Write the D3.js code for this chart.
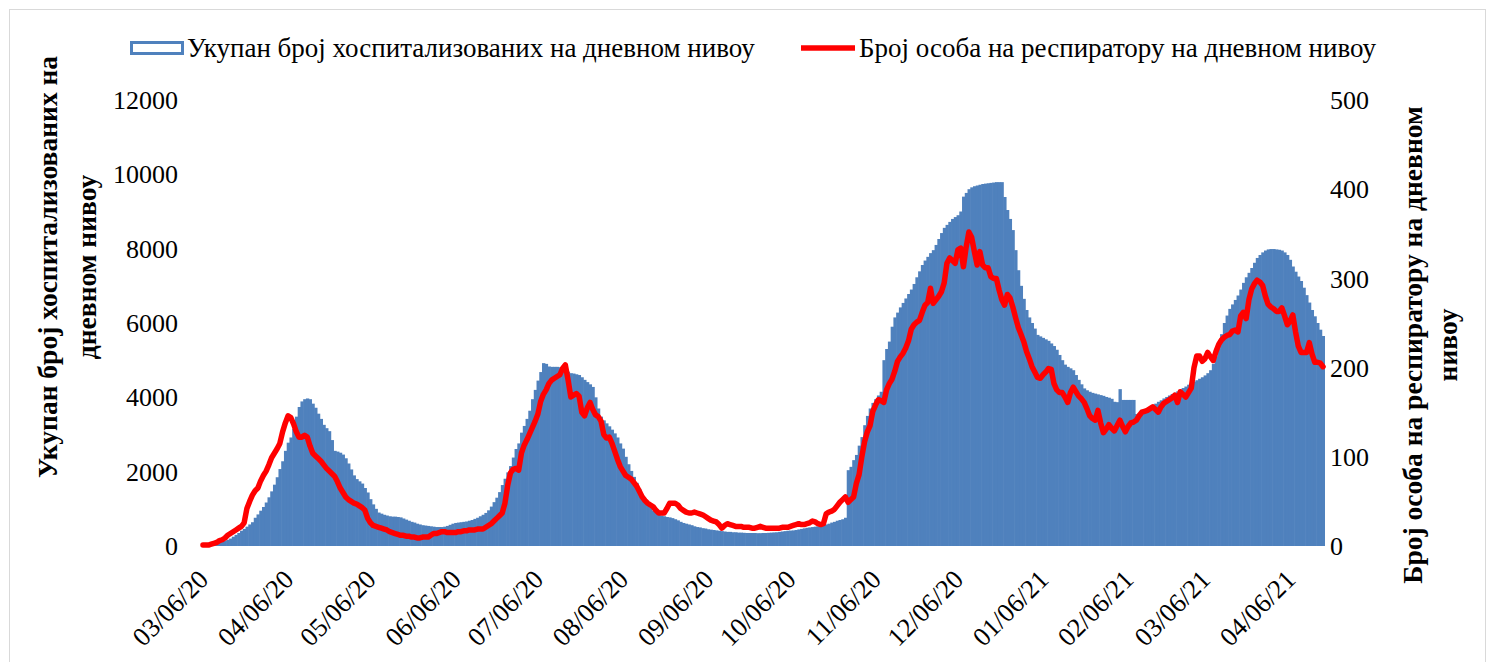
<!DOCTYPE html>
<html lang="sr">

<head>
    <meta charset="UTF-8">
    <script src="https://d3js.org/d3.v7.min.js"></script>
    <title>Хоспитализовани и респиратори</title>
    <style>
        body {
            margin: 0;
            background: white;
        }

        svg text {
            font-family: "Liberation Serif", "Times New Roman", serif;
            fill: #000;
        }
    </style>
</head>

<body>
    <div class="fig1"></div>

    <script>
        // daily data, first day 03/06/20, last day 04/18/21
        const startDay = new Date(2020, 2, 6);
        const endDay = new Date(2021, 3, 19);   // exclusive

        // total hospitalized per day (left axis)
        const hospitalized = [
            0, 0, 10, 20, 40, 60, 80, 110, 140, 170,
            200, 250, 300, 350, 410, 460, 520, 580, 640, 760,
            850, 950, 1050, 1170, 1310, 1470, 1650, 1850, 2070, 2280,
            2560, 2780, 2920, 3150, 3480, 3740, 3890, 3950, 3970, 3950,
            3830, 3720, 3560, 3420, 3260, 3170, 3090, 2850, 2560, 2540,
            2510, 2460, 2360, 2220, 2060, 1900, 1800, 1740, 1680, 1560,
            1440, 1260, 1120, 1000, 900, 870, 840, 820, 800, 790,
            790, 780, 770, 740, 710, 680, 650, 630, 600, 580,
            560, 550, 540, 530, 520, 510, 510, 510, 520, 540,
            570, 600, 620, 630, 640, 650, 660, 680, 700, 730,
            760, 800, 840, 890, 960, 1060, 1180, 1300, 1450, 1640,
            1810, 1980, 2150, 2380, 2610, 2760, 3050, 3230, 3420, 3640,
            3950, 4200, 4450, 4680, 4920, 4900, 4830, 4820, 4820, 4820,
            4810, 4780, 4740, 4690, 4650, 4640, 4620, 4600, 4540, 4470,
            4410, 4350, 4280, 4000, 3700, 3480, 3380, 3300, 3220, 3130,
            3030, 2920, 2760, 2620, 2400, 2200, 2020, 1860, 1700, 1540,
            1360, 1240, 1140, 1040, 950, 890, 850, 820, 800, 780,
            770, 750, 720, 690, 650, 620, 600, 580, 560, 530,
            510, 500, 480, 470, 450, 440, 430, 420, 410, 400,
            390, 380, 380, 370, 370, 360, 360, 355, 350, 350,
            350, 350, 345, 345, 350, 350, 355, 360, 365, 370,
            380, 390, 400, 410, 415, 420, 430, 445, 460, 475,
            490, 500, 510, 520, 530, 545, 560, 580, 600, 630,
            650, 680, 700, 720, 760, 2040, 2130, 2310, 2450, 2700,
            2930, 3250, 3500, 3700, 3850, 3950, 4050, 4150, 5000, 5300,
            5500, 5900, 6150, 6280, 6420, 6540, 6660, 6780, 6900, 7050,
            7230, 7390, 7560, 7680, 7780, 7880, 7960, 8100, 8260, 8420,
            8560, 8640, 8720, 8800, 8850, 8900, 9000, 9400, 9500, 9600,
            9650, 9680, 9700, 9720, 9740, 9750, 9760, 9770, 9780, 9790,
            9790, 9790, 9390, 9040, 8800, 8500, 7960, 7420, 7000, 6650,
            6350, 6150, 6000, 5850, 5680, 5640, 5600, 5560, 5520, 5450,
            5380, 5280, 5140, 5000, 4880, 4820, 4780, 4730, 4600, 4470,
            4350, 4240, 4190, 4150, 4120, 4100, 4080, 4060, 4040, 4010,
            3990, 3960, 3880, 3870, 4220, 3930, 3930, 3930, 3930, 3930,
            3550, 3580, 3620, 3660, 3700, 3740, 3780, 3830, 3880, 3920,
            3970, 4010, 4050, 4090, 4120, 4160, 4200, 4250, 4290, 4340,
            4380, 4420, 4460, 4500, 4540, 4590, 4650, 4730, 4900, 5100,
            5300, 5700, 6000, 6200, 6380, 6500, 6620, 6740, 6900, 7080,
            7230, 7350, 7480, 7620, 7750, 7830, 7900, 7950, 7980, 7990,
            7990, 7980, 7970, 7950, 7900, 7830, 7700, 7520, 7380, 7250,
            7130, 6950, 6750, 6550, 6350, 6180, 6000, 5820, 5650
        ];

        // persons on respirator per day (right axis)
        const respirator = [
            1, 1, 1, 2, 3, 4, 6, 7, 9, 12,
            14, 16, 18, 20, 22, 26, 42, 50, 57, 62,
            65, 73, 79, 84, 91, 99, 104, 109, 115, 128,
            138, 146, 144, 137, 128, 122, 122, 124, 122, 112,
            104, 101, 98, 95, 91, 87, 84, 81, 78, 72,
            65, 60, 55, 52, 50, 48, 47, 45, 43, 40,
            31, 26, 23, 22, 21, 20, 19, 18, 16, 15,
            14, 13, 12, 12, 11, 11, 10, 10, 9, 9,
            10, 10, 10, 12, 14, 14, 15, 16, 16, 15,
            15, 15, 15, 16, 16, 17, 17, 18, 18, 18,
            19, 19, 19, 21, 23, 25, 28, 31, 34, 37,
            48, 68, 82, 86, 87, 85, 104, 113, 119, 126,
            133, 140, 148, 162, 170, 175, 182, 186, 188, 190,
            192, 199, 203, 186, 167, 169, 171, 168, 150, 146,
            155, 161, 153, 147, 145, 140, 125, 121, 122, 115,
            106, 97, 89, 84, 79, 77, 75, 71, 67, 61,
            55, 51, 48, 46, 44, 40, 37, 37, 37, 42,
            48, 48, 48, 46, 42, 40, 38, 37, 37, 38,
            37, 36, 35, 33, 31, 29, 28, 27, 24, 20,
            23, 25, 24, 23, 22, 22, 22, 21, 21, 21,
            20, 20, 21, 22, 21, 20, 20, 20, 20, 20,
            20, 21, 21, 21, 22, 23, 24, 25, 24, 24,
            25, 26, 28, 27, 25, 24, 25, 36, 38, 39,
            41, 45, 49, 52, 55, 49, 52, 55, 70, 80,
            100, 117, 128, 135, 151, 158, 164, 163, 161, 175,
            182, 187, 196, 207, 212, 216, 222, 230, 243, 248,
            251, 253, 262, 270, 273, 289, 272, 276, 280, 285,
            295, 317, 323, 320, 317, 332, 334, 313, 335, 352,
            346, 330, 315, 330, 315, 312, 312, 302, 300, 300,
            287, 276, 270, 282, 278, 268, 256, 245, 237, 229,
            218, 210, 201, 195, 189, 188, 192, 195, 199, 198,
            182, 175, 172, 172, 167, 161, 172, 178, 173, 168,
            165, 161, 154, 146, 143, 141, 152, 138, 127, 131,
            136, 132, 129, 135, 141, 134, 128, 134, 138, 139,
            141, 146, 150, 151, 152, 154, 156, 153, 150, 156,
            160, 162, 164, 166, 169, 161, 173, 170, 167, 172,
            177, 200, 213, 213, 207, 210, 217, 212, 208, 218,
            226, 231, 234, 236, 237, 241, 242, 240, 258, 262,
            255, 276, 288, 294, 298, 296, 292, 280, 271, 268,
            266, 263, 263, 267, 258, 248, 252, 259, 240, 224,
            217, 217, 217, 228, 215, 206, 206, 205, 201
        ];

        const xTickLabels = ["03/06/20", "04/06/20", "05/06/20", "06/06/20", "07/06/20", "08/06/20", "09/06/20",
            "10/06/20", "11/06/20", "12/06/20", "01/06/21", "02/06/21", "03/06/21", "04/06/21"];
        const leftTicks = [0, 2000, 4000, 6000, 8000, 10000, 12000];
        const rightTicks = [0, 100, 200, 300, 400, 500];

        const legendBars = "Укупан број хоспитализованих на дневном нивоу";
        const legendLine = "Број особа на респиратору на дневном нивоу";
        const leftTitle = ["Укупан број хоспитализованих на", "дневном нивоу"];
        const rightTitle = ["Број особа на респиратору на дневном", "нивоу"];

        const width = 1494;
        const height = 662;
        const barColor = "#4f81bd";
        const lineColor = "#ff0000";

        const days = d3.timeDay.range(startDay, endDay);
        const parseTick = d3.timeParse("%m/%d/%y");

        const svg = d3.select(".fig1").append("svg")
            .attr("width", width)
            .attr("height", height);

        // chart frame
        svg.append("rect")
            .attr("x", 9.5).attr("y", 9.5)
            .attr("width", 1476).attr("height", 665)
            .attr("fill", "white")
            .attr("stroke", "#d9d9d9")
            .attr("stroke-width", 1);

        const x = d3.scaleBand()
            .domain(days.map(d => +d))
            .range([201.6, 1324.4])
            .paddingInner(0)
            .paddingOuter(0);

        const yLeft = d3.scaleLinear().domain([0, 12000]).range([546, 100]);
        const yRight = d3.scaleLinear().domain([0, 500]).range([546, 100]);

        // bars
        svg.append("g")
            .selectAll("rect")
            .data(hospitalized)
            .enter()
            .append("rect")
            .attr("x", (d, i) => x(+days[i]))
            .attr("y", d => yLeft(d))
            .attr("width", x.bandwidth() + 0.6)
            .attr("height", d => yLeft(0) - yLeft(d))
            .attr("fill", barColor);

        // respirator line
        const line = d3.line()
            .x((d, i) => x(+days[i]) + x.bandwidth() / 2)
            .y(d => yRight(d));

        svg.append("path")
            .datum(respirator)
            .attr("d", line)
            .attr("fill", "none")
            .attr("stroke", lineColor)
            .attr("stroke-width", 5.5)
            .attr("stroke-linejoin", "round")
            .attr("stroke-linecap", "round");

        // left axis labels
        svg.append("g")
            .selectAll("text")
            .data(leftTicks)
            .enter()
            .append("text")
            .attr("x", 178)
            .attr("y", d => yLeft(d))
            .attr("dy", "0.35em")
            .attr("text-anchor", "end")
            .style("font-size", "26px")
            .text(d => d);

        // right axis labels
        svg.append("g")
            .selectAll("text")
            .data(rightTicks)
            .enter()
            .append("text")
            .attr("x", 1330)
            .attr("y", d => yRight(d))
            .attr("dy", "0.35em")
            .attr("text-anchor", "start")
            .style("font-size", "26px")
            .text(d => d);

        // x labels, rotated
        svg.append("g")
            .selectAll("text")
            .data(xTickLabels)
            .enter()
            .append("text")
            .attr("transform", d => {
                const cx = x(+parseTick(d)) + x.bandwidth() / 2;
                return `translate(${cx + 7},${581}) rotate(-45)`;
            })
            .attr("text-anchor", "end")
            .style("font-size", "26.5px")
            .text(d => d);

        // axis titles
        leftTitle.forEach((t, k) => {
            svg.append("text")
                .attr("transform", `translate(${47 + k * 39},267) rotate(-90)`)
                .attr("text-anchor", "middle")
                .attr("dy", "0.35em")
                .style("font-size", "27.5px")
                .style("font-weight", "bold")
                .text(t);
        });

        rightTitle.forEach((t, k) => {
            svg.append("text")
                .attr("transform", `translate(${1412 + k * 35},345) rotate(-90)`)
                .attr("text-anchor", "middle")
                .attr("dy", "0.35em")
                .style("font-size", "27.5px")
                .style("font-weight", "bold")
                .text(t);
        });

        // legend
        svg.append("rect")
            .attr("x", 131.5).attr("y", 42.5)
            .attr("width", 51).attr("height", 11)
            .attr("fill", "white")
            .attr("stroke", barColor)
            .attr("stroke-width", 3);

        svg.append("text")
            .attr("x", 187).attr("y", 57)
            .style("font-size", "27px")
            .text(legendBars);

        svg.append("line")
            .attr("x1", 801).attr("x2", 855)
            .attr("y1", 48).attr("y2", 48)
            .attr("stroke", lineColor)
            .attr("stroke-width", 5.5);

        svg.append("text")
            .attr("x", 859).attr("y", 57)
            .style("font-size", "27px")
            .text(legendLine);
    </script>
</body>

</html>
